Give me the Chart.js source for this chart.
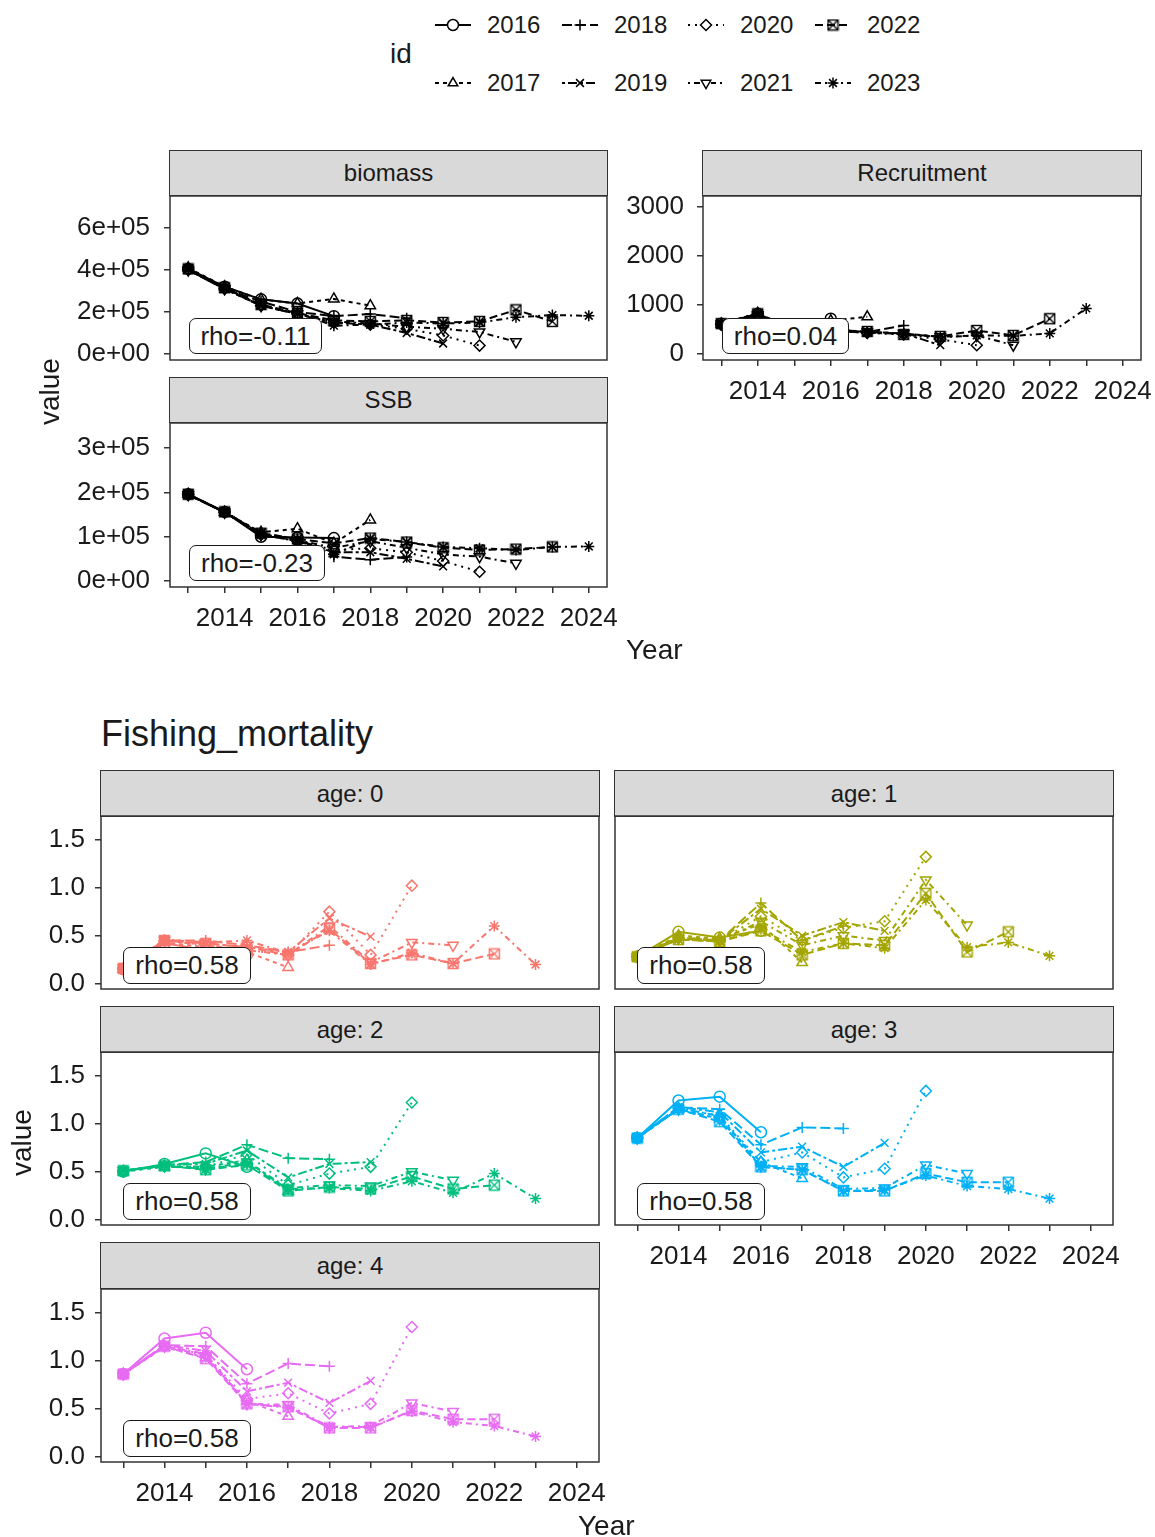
<!DOCTYPE html>
<html lang="en">
<head>
<meta charset="UTF-8" />
<title>Retrospective analysis</title>
<script src="https://cdn.jsdelivr.net/npm/chart.js"></script>
<style>
  body {
    margin: 0;
    width: 1155px;
    height: 1537px;
    position: relative;
    background: #fff;
    font-family: "Liberation Sans", Arial, sans-serif;
    color: #1a1a1a;
    overflow: hidden;
  }
  canvas { position: absolute; }
  .txt { position: absolute; white-space: nowrap; line-height: 1; }
  .strip {
    position: absolute;
    background: #d9d9d9;
    border: 1.5px solid #333;
    box-sizing: border-box;
    font-size: 24px;
    color: #1a1a1a;
    display: flex;
    align-items: center;
    justify-content: center;
  }
  .rho {
    position: absolute;
    background: #fff;
    border: 1.5px solid #1a1a1a;
    border-radius: 7px;
    box-sizing: border-box;
    font-size: 26px;
    display: flex;
    align-items: center;
    justify-content: center;
    z-index: 5;
  }
</style>
</head>
<body>
<script>
  // ---- data ----
  const ids = ["2016", "2017", "2018", "2019", "2020", "2021", "2022", "2023"];
  const years = [2013, 2014, 2015, 2016, 2017, 2018, 2019, 2020, 2021, 2022, 2023, 2024];
  const yearTicks = [2013, 2014, 2015, 2016, 2017, 2018, 2019, 2020, 2021, 2022, 2023, 2024];

  // one row per id (2016..2023), values from 2013 on
  const biomass = [
    [4.05e5, 3.2e5, 2.6e5, 2.4e5, 1.8e5],
    [4.1e5, 3.2e5, 2.6e5, 2.4e5, 2.62e5, 2.3e5],
    [4.0e5, 3.1e5, 2.5e5, 2.0e5, 1.8e5, 1.9e5, 1.7e5],
    [4.0e5, 3.1e5, 2.3e5, 1.9e5, 1.5e5, 1.4e5, 1.0e5, 0.5e5],
    [4.0e5, 3.1e5, 2.3e5, 1.9e5, 1.5e5, 1.4e5, 1.2e5, 0.88e5, 0.4e5],
    [4.0e5, 3.1e5, 2.3e5, 1.9e5, 1.55e5, 1.45e5, 1.3e5, 1.2e5, 1.05e5, 0.58e5],
    [4.05e5, 3.15e5, 2.35e5, 1.95e5, 1.6e5, 1.55e5, 1.6e5, 1.5e5, 1.55e5, 2.1e5, 1.55e5],
    [4.05e5, 3.15e5, 2.3e5, 1.95e5, 1.35e5, 1.4e5, 1.5e5, 1.45e5, 1.5e5, 1.75e5, 1.85e5, 1.82e5]
  ];
  const ssb = [
    [1.96e5, 1.56e5, 1.0e5, 0.98e5, 0.97e5],
    [1.96e5, 1.55e5, 1.1e5, 1.18e5, 0.85e5, 1.38e5],
    [1.95e5, 1.55e5, 1.05e5, 0.95e5, 0.55e5, 0.48e5, 0.54e5],
    [1.95e5, 1.55e5, 1.05e5, 0.9e5, 0.65e5, 0.65e5, 0.5e5, 0.33e5],
    [1.95e5, 1.55e5, 1.05e5, 0.9e5, 0.7e5, 0.74e5, 0.65e5, 0.45e5, 0.21e5],
    [1.95e5, 1.55e5, 1.05e5, 0.92e5, 0.75e5, 0.9e5, 0.75e5, 0.6e5, 0.55e5, 0.4e5],
    [1.96e5, 1.56e5, 1.08e5, 0.95e5, 0.85e5, 0.97e5, 0.88e5, 0.75e5, 0.7e5, 0.72e5, 0.77e5],
    [1.96e5, 1.56e5, 1.08e5, 0.95e5, 0.6e5, 0.95e5, 0.88e5, 0.77e5, 0.74e5, 0.7e5, 0.77e5, 0.78e5]
  ];
  const recruitment = [
    [620, 820, 500, 720],
    [610, 830, 480, 680, 760],
    [600, 800, 470, 500, 450, 580],
    [600, 790, 470, 480, 430, 420, 180],
    [600, 790, 470, 480, 430, 400, 300, 180],
    [610, 800, 480, 480, 450, 420, 350, 380, 180],
    [620, 820, 490, 490, 460, 400, 360, 480, 380, 720],
    [620, 830, 490, 500, 450, 420, 340, 380, 370, 420, 930]
  ];
  const fAge0 = [
    [0.15, 0.42, 0.35, 0.3],
    [0.15, 0.43, 0.38, 0.33, 0.17],
    [0.16, 0.45, 0.45, 0.4, 0.33, 0.4],
    [0.16, 0.45, 0.42, 0.38, 0.33, 0.68, 0.49],
    [0.16, 0.45, 0.4, 0.35, 0.3, 0.75, 0.3, 1.02],
    [0.16, 0.45, 0.4, 0.35, 0.3, 0.6, 0.22, 0.43, 0.4],
    [0.16, 0.45, 0.42, 0.38, 0.3, 0.57, 0.21, 0.3, 0.21, 0.31],
    [0.16, 0.46, 0.43, 0.45, 0.32, 0.55, 0.2, 0.32, 0.21, 0.6, 0.2]
  ];
  const fAge1 = [
    [0.28, 0.54, 0.48, 0.55],
    [0.28, 0.5, 0.47, 0.62, 0.22],
    [0.28, 0.48, 0.45, 0.84, 0.45, 0.6],
    [0.28, 0.48, 0.45, 0.78, 0.5, 0.64, 0.55],
    [0.28, 0.48, 0.45, 0.7, 0.45, 0.58, 0.65, 1.32],
    [0.28, 0.47, 0.45, 0.65, 0.4, 0.5, 0.45, 1.08, 0.61],
    [0.28, 0.46, 0.44, 0.55, 0.3, 0.42, 0.4, 0.94, 0.33, 0.54],
    [0.28, 0.46, 0.44, 0.57, 0.33, 0.42, 0.37, 0.87, 0.38, 0.43, 0.29]
  ];
  const fAge2 = [
    [0.5, 0.58, 0.69, 0.55],
    [0.5, 0.55, 0.55, 0.62, 0.3],
    [0.51, 0.57, 0.6, 0.78, 0.64, 0.63],
    [0.51, 0.57, 0.58, 0.72, 0.44, 0.58, 0.6],
    [0.51, 0.56, 0.55, 0.68, 0.36, 0.48, 0.55, 1.22],
    [0.51, 0.56, 0.53, 0.6, 0.33, 0.36, 0.35, 0.5, 0.41],
    [0.51, 0.56, 0.52, 0.57, 0.3, 0.34, 0.32, 0.45, 0.32, 0.36],
    [0.51, 0.56, 0.53, 0.58, 0.32, 0.33, 0.3, 0.4, 0.28, 0.48, 0.22]
  ];
  const fAge3 = [
    [0.85, 1.24, 1.28, 0.91],
    [0.85, 1.15, 1.05, 0.6, 0.43],
    [0.85, 1.17, 1.15, 0.78, 0.96, 0.95],
    [0.85, 1.17, 1.12, 0.7, 0.76, 0.55, 0.8],
    [0.85, 1.16, 1.08, 0.6, 0.7, 0.44, 0.53, 1.34],
    [0.85, 1.15, 1.05, 0.56, 0.55, 0.32, 0.33, 0.57, 0.48],
    [0.85, 1.15, 1.02, 0.55, 0.52, 0.3, 0.3, 0.48, 0.39, 0.39],
    [0.86, 1.16, 1.08, 0.55, 0.52, 0.3, 0.31, 0.46, 0.35, 0.32, 0.22]
  ];
  const fAge4 = [
    [0.86, 1.23, 1.29, 0.91],
    [0.86, 1.14, 1.03, 0.58, 0.42],
    [0.86, 1.16, 1.15, 0.76, 0.97, 0.94],
    [0.86, 1.16, 1.1, 0.68, 0.77, 0.56, 0.79],
    [0.86, 1.15, 1.06, 0.6, 0.66, 0.45, 0.55, 1.35],
    [0.86, 1.15, 1.05, 0.55, 0.54, 0.31, 0.32, 0.56, 0.47],
    [0.86, 1.15, 1.02, 0.55, 0.52, 0.3, 0.3, 0.48, 0.39, 0.39],
    [0.86, 1.15, 1.07, 0.55, 0.51, 0.31, 0.31, 0.47, 0.36, 0.32, 0.21]
  ];

  const biomassTicks = [0, 2e5, 4e5, 6e5];
  const ssbTicks = [0, 1e5, 2e5, 3e5];
  const recTicks = [0, 1000, 2000, 3000];
  const fTicks = [0, 0.5, 1.0, 1.5];
  const rhoBiomass = "rho=-0.11";
  const rhoSsb = "rho=-0.23";
  const rhoRec = "rho=0.04";
  const rhoF = "rho=0.58";

  // ---- styles ----
  const dashes = [[], [4, 4], [10, 4], [3, 3, 9, 3], [2, 5], [2, 4, 6, 4], [8, 4], [6, 4, 2, 4]];
  const FONT = '"Liberation Sans", Arial, sans-serif';

  function boxX(color) {
    const c = document.createElement("canvas");
    c.width = 13; c.height = 13;
    const g = c.getContext("2d");
    g.strokeStyle = color; g.lineWidth = 1.4;
    g.strokeRect(1.5, 1.5, 10, 10);
    g.beginPath();
    g.moveTo(1.5, 1.5); g.lineTo(11.5, 11.5);
    g.moveTo(11.5, 1.5); g.lineTo(1.5, 11.5);
    g.stroke();
    return c;
  }
  function shapesFor(color) {
    return ["circle", "triangle", "cross", "crossRot", "rectRot", "triangle", boxX(color), "star"];
  }

  const boxPlugin = {
    id: "panelBox",
    afterDraw(chart) {
      const { ctx, chartArea: a } = chart;
      ctx.save();
      ctx.strokeStyle = "#333";
      ctx.lineWidth = 1.5;
      ctx.strokeRect(a.left, a.top, a.right - a.left, a.bottom - a.top);
      ctx.restore();
    }
  };

  function fmtSci(v) {
    if (v === 0) return "0e+00";
    const e = Math.floor(Math.log10(v));
    return Math.round(v / Math.pow(10, e)) + "e+" + String(e).padStart(2, "0");
  }

  function addDiv(cls, text, x, y, w, h) {
    const d = document.createElement("div");
    d.className = cls;
    d.textContent = text;
    d.style.left = x + "px"; d.style.top = y + "px";
    d.style.width = w + "px"; d.style.height = h + "px";
    document.body.appendChild(d);
    return d;
  }
  function addText(text, x, y, size, extra) {
    const d = document.createElement("div");
    d.className = "txt";
    d.textContent = text;
    d.style.left = x + "px"; d.style.top = y + "px";
    d.style.fontSize = size + "px";
    if (extra) Object.assign(d.style, extra);
    document.body.appendChild(d);
    return d;
  }

  const PADT = 20, PADR = 40, PADB = 18;
  const noPad = (s) => { s.paddingTop = 0; s.paddingBottom = 0; s.paddingLeft = 0; s.paddingRight = 0; };

  function panel(p) {
    const cv = document.createElement("canvas");
    cv.width = p.w + p.yW + PADR;
    cv.height = p.h + p.xH + PADT + PADB;
    cv.style.left = (p.x - p.yW) + "px";
    cv.style.top = (p.y - PADT) + "px";
    document.body.appendChild(cv);

    const shapes = shapesFor(p.color);
    const datasets = p.runs.map((run, i) => ({
      label: ids[i],
      data: run.map((v, j) => ({ x: years[j], y: v })),
      borderColor: p.color,
      borderWidth: 2,
      borderDash: dashes[i],
      fill: false,
      tension: 0,
      pointStyle: shapes[i],
      pointRotation: i === 5 ? 180 : 0,
      pointRadius: i === 1 || i === 5 ? 6 : 5.5,
      pointBorderWidth: 1.5,
      pointBorderColor: p.color,
      pointBackgroundColor: "rgba(0,0,0,0)"
    }));

    new Chart(cv, {
      type: "line",
      data: { datasets },
      options: {
        responsive: false,
        animation: false,
        devicePixelRatio: 1,
        layout: { padding: { top: PADT, right: PADR, left: 0, bottom: PADB } },
        plugins: { legend: { display: false }, tooltip: { enabled: false } },
        scales: {
          x: {
            type: "linear",
            min: p.xMin,
            max: p.xMax,
            afterBuildTicks: (s) => { s.ticks = yearTicks.map((v) => ({ value: v })); },
            afterFit: (s) => { s.height = p.xH; noPad(s); },
            ticks: {
              display: p.showX,
              autoSkip: false,
              maxRotation: 0,
              padding: 10,
              color: "#1a1a1a",
              font: { family: FONT, size: 26 },
              callback: (v) => (v % 2 === 0 ? String(v) : "")
            },
            grid: { drawOnChartArea: false, drawTicks: p.showX, tickLength: 6, color: "#333", lineWidth: 1.5 },
            border: { display: false }
          },
          y: {
            type: "linear",
            min: p.yMin,
            max: p.yMax,
            afterBuildTicks: (s) => {
              const t = [];
              for (let k = 0; k < p.ticks.length; k++) {
                t.push({ value: p.ticks[k] });
                if (k < p.ticks.length - 1) t.push({ value: (p.ticks[k] + p.ticks[k + 1]) / 2 });
              }
              s.ticks = t;
            },
            afterFit: (s) => { s.width = p.yW; noPad(s); },
            ticks: {
              display: p.showY,
              padding: p.yPad,
              color: "#1a1a1a",
              font: { family: FONT, size: 26 },
              callback: (v) => (p.ticks.includes(v) ? p.fmt(v) : "")
            },
            grid: { drawOnChartArea: false, drawTicks: p.showY, tickLength: 6, color: "#333", lineWidth: 1.5 },
            border: { display: false }
          }
        }
      },
      plugins: [boxPlugin]
    });
  }

  const fmtF = (v) => v.toFixed(1);
  const fmtInt = (v) => String(v);
  const BLACK = "#000";

  // ---- top block ----
  addDiv("strip", "biomass", 169, 150, 439, 46);
  panel({ x: 170, y: 196, w: 437, h: 164, yW: 110, xH: 4, showX: false, showY: true, yPad: 14, color: BLACK,
    runs: biomass, xMin: 2012.5, xMax: 2024.5, yMin: -2.86e4, yMax: 7.52e5, ticks: biomassTicks, fmt: fmtSci });
  addDiv("rho", rhoBiomass, 189, 318, 133, 36);

  addDiv("strip", "Recruitment", 702, 150, 440, 46);
  panel({ x: 703, y: 196, w: 438, h: 164, yW: 91, xH: 50, showX: true, showY: true, yPad: 13, color: BLACK,
    runs: recruitment, xMin: 2012.5, xMax: 2024.5, yMin: -122, yMax: 3224, ticks: recTicks, fmt: fmtInt });
  addDiv("rho", rhoRec, 722, 318, 127, 36);

  addDiv("strip", "SSB", 169, 377, 439, 46);
  panel({ x: 170, y: 423, w: 437, h: 164, yW: 110, xH: 50, showX: true, showY: true, yPad: 14, color: BLACK,
    runs: ssb, xMin: 2012.5, xMax: 2024.5, yMin: -1.35e4, yMax: 3.567e5, ticks: ssbTicks, fmt: fmtSci });
  addDiv("rho", rhoSsb, 189, 545, 136, 36);

  addText("value", 36, 425, 28, { transform: "rotate(-90deg)", transformOrigin: "0 0" });
  addText("Year", 626, 636, 28);

  // legend
  addText("id", 390, 40, 28);
  function legendKey(i, x, y) {
    const c = document.createElement("canvas");
    c.width = 40; c.height = 24;
    c.style.left = x + "px"; c.style.top = (y - 12) + "px";
    document.body.appendChild(c);
    const g = c.getContext("2d");
    g.strokeStyle = BLACK; g.lineWidth = 2;
    g.setLineDash(dashes[i]);
    g.beginPath(); g.moveTo(2, 12); g.lineTo(38, 12); g.stroke();
    g.setLineDash([]);
    const st = shapesFor(BLACK)[i];
    const opts = { pointStyle: st, rotation: i === 5 ? 180 : 0, radius: 5.5, borderWidth: 1.5 };
    g.lineWidth = 1.5;
    g.fillStyle = "#fff";
    if (Chart.helpers && Chart.helpers.drawPoint) {
      if (typeof st === "string" && st !== "cross" && st !== "crossRot" && st !== "star") {
        g.beginPath(); g.arc(20, 12, 5, 0, Math.PI * 2); g.fill();
      }
      Chart.helpers.drawPoint(g, opts, 20, 12);
    }
  }
  const legX = [433, 560, 686, 813];
  for (let i = 0; i < ids.length; i++) {
    const col = Math.floor(i / 2), row = i % 2;
    const y = row === 0 ? 25 : 83;
    legendKey(i, legX[col], y);
    addText(ids[i], legX[col] + 54, y - 12, 24);
  }

  // ---- fishing mortality block ----
  addText("Fishing_mortality", 101, 716, 36);
  const fRange = { xMin: 2012.46, xMax: 2024.54, yMin: -0.055, yMax: 1.745, ticks: fTicks, fmt: fmtF, yPad: 10 };
  const ageColors = ["#F8766D", "#A3A500", "#00BF7D", "#00B0F6", "#E76BF3"];
  const ageRuns = [fAge0, fAge1, fAge2, fAge3, fAge4];
  const fSlots = [
    { x: 101, y: 816, showX: false, showY: true, strip: 770 },
    { x: 615, y: 816, showX: false, showY: false, strip: 770 },
    { x: 101, y: 1052, showX: false, showY: true, strip: 1006 },
    { x: 615, y: 1052, showX: true, showY: false, strip: 1006 },
    { x: 101, y: 1289, showX: true, showY: true, strip: 1242 }
  ];
  fSlots.forEach((s, a) => {
    addDiv("strip", "age: " + a, s.x - 1, s.strip, 500, 47);
    panel(Object.assign({ x: s.x, y: s.y, w: 498, h: 173, yW: 95, xH: s.showX ? 50 : 4, showX: s.showX,
      showY: s.showY, color: ageColors[a], runs: ageRuns[a] }, fRange));
    addDiv("rho", rhoF, s.x + 22, s.y + 131, 128, 37);
  });

  addText("value", 8, 1176, 28, { transform: "rotate(-90deg)", transformOrigin: "0 0" });
  addText("Year", 578, 1512, 28);
</script>
</body>
</html>
